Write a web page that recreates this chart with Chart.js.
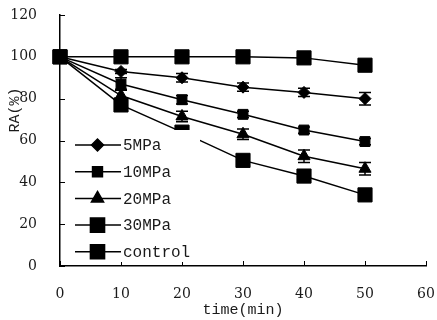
<!DOCTYPE html>
<html>
<head>
<meta charset="utf-8">
<script src="https://cdn.jsdelivr.net/npm/chart.js@4.4.1/dist/chart.umd.min.js"></script>
<style>
    html, body { margin: 0; padding: 0; background: #fff; }
    #wrap { width: 437px; height: 320px; }
</style>
</head>
<body>
<div id="wrap"><canvas id="raChart" width="437" height="320"></canvas></div>
<script>
// Time points (min) and axis ticks
const timePoints = [0, 10, 20, 30, 40, 50];
const xTickValues = [0, 10, 20, 30, 40, 50, 60];
const yTickValues = [0, 20, 40, 60, 80, 100, 120];

// RA (%) per pressure
const ra5MPa = [100, 93, 90, 85.5, 83, 80];
const ra10MPa = [100, 87, 79.5, 72.5, 65, 59.5];
const ra20MPa = [100, 81.5, 71.5, 63, 52.5, 46.5];
const ra30MPa = [100, 77, 64, 50.5, 43, 34];
const raControl = [100, 100, 100, 100, 99.5, 96];

// Error bar half-heights
const err5MPa = [0, 1, 2, 2, 2, 3];
const err10MPa = [0, 3, 2, 1.5, 1.5, 1.5];
const err20MPa = [0, 3, 2.5, 2.5, 3, 3];
const err30MPa = [0, 3, 0, 0, 0, 0];
const errControl = [0, 0, 0, 0, 0, 0];

const seriesLabels = ['5MPa', '10MPa', '20MPa', '30MPa', 'control'];

const ink = '#000';
const textColor = '#1a1a1a';

function makeDataset(label, values, errors, pointStyle, radius) {
    return {
        label: label,
        data: timePoints.map((t, i) => ({ x: t, y: values[i] })),
        errors: errors,
        borderColor: ink,
        backgroundColor: ink,
        borderWidth: 1.5,
        pointStyle: pointStyle,
        pointRadius: radius,
        pointHoverRadius: radius,
        pointBorderWidth: 1,
        tension: 0,
        clip: false
    };
}

const datasets = [
    makeDataset(seriesLabels[0], ra5MPa, err5MPa, 'rectRot', 6),
    makeDataset(seriesLabels[1], ra10MPa, err10MPa, 'rect', 7),
    makeDataset(seriesLabels[2], ra20MPa, err20MPa, 'triangle', 7),
    makeDataset(seriesLabels[3], ra30MPa, err30MPa, 'rect', 10),
    makeDataset(seriesLabels[4], raControl, errControl, 'rect', 10)
];

// Error bars, inward ticks, the white legend box and axis titles
const decorPlugin = {
    id: 'decor',
    afterDatasetsDraw(chart) {
        const ctx = chart.ctx;
        const xs = chart.scales.x;
        const ys = chart.scales.y;
        const area = chart.chartArea;
        ctx.save();
        ctx.strokeStyle = ink;
        ctx.lineWidth = 1.5;

        // error bars
        chart.data.datasets.forEach(ds => {
            ds.data.forEach((p, i) => {
                const e = ds.errors[i];
                if (!e) return;
                const px = xs.getPixelForValue(p.x);
                const top = ys.getPixelForValue(p.y + e);
                const bot = ys.getPixelForValue(p.y - e);
                ctx.beginPath();
                ctx.moveTo(px, top); ctx.lineTo(px, bot);
                ctx.moveTo(px - 6, top); ctx.lineTo(px + 6, top);
                ctx.moveTo(px - 6, bot); ctx.lineTo(px + 6, bot);
                ctx.stroke();
            });
        });

        // inward tick marks
        ctx.lineWidth = 1;
        ctx.beginPath();
        xTickValues.forEach(v => {
            const px = Math.round(xs.getPixelForValue(v)) + 0.5;
            ctx.moveTo(px, area.bottom); ctx.lineTo(px, area.bottom - 5);
        });
        yTickValues.forEach(v => {
            const py = Math.round(ys.getPixelForValue(v)) + 0.5;
            ctx.moveTo(area.left, py); ctx.lineTo(area.left + 5, py);
        });
        ctx.stroke();

        // legend box (white, covers the lines behind it)
        const boxLeft = area.left + 5;
        const boxTop = 130;
        ctx.fillStyle = '#fff';
        ctx.fillRect(boxLeft, boxTop, 135, 132);
        ctx.font = '16px "Liberation Mono"';
        ctx.textBaseline = 'middle';
        ctx.textAlign = 'left';
        chart.data.datasets.forEach((ds, i) => {
            const ly = 145 + i * 26.7;
            ctx.strokeStyle = ink;
            ctx.lineWidth = 1.5;
            ctx.beginPath();
            ctx.moveTo(75, ly); ctx.lineTo(121, ly);
            ctx.stroke();
            ctx.fillStyle = ink;
            Chart.helpers.drawPoint(ctx, {
                pointStyle: ds.pointStyle,
                radius: ds.pointRadius,
                rotation: 0,
                borderWidth: 1
            }, 97.5, ly);
            ctx.fillStyle = textColor;
            ctx.fillText(ds.label, 123, ly + 1);
        });

        // axis titles
        ctx.fillStyle = textColor;
        ctx.font = '15px "Liberation Mono"';
        ctx.textAlign = 'center';
        ctx.fillText('time(min)', 243, 310);
        ctx.translate(15, 110);
        ctx.rotate(-Math.PI / 2);
        ctx.fillText('RA(%)', 0, 0);
        ctx.restore();
    }
};

const config = {
    type: 'line',
    data: { datasets: datasets },
    options: {
        responsive: false,
        animation: false,
        layout: { padding: { left: 0, right: 10, top: 15, bottom: 0 } },
        plugins: {
            legend: { display: false },
            tooltip: { enabled: false }
        },
        scales: {
            x: {
                type: 'linear',
                min: 0,
                max: 60,
                afterFit: scale => {
                    scale.height = 54;
                    scale.paddingLeft = 0;
                    scale.paddingRight = 0;
                },
                afterBuildTicks: scale => { scale.ticks = xTickValues.map(v => ({ value: v })); },
                grid: { display: false },
                border: { display: true, color: ink, width: 1.5 },
                ticks: {
                    padding: 12,
                    color: textColor,
                    font: { family: '"DejaVu Serif"', size: 14 }
                }
            },
            y: {
                type: 'linear',
                min: 0,
                max: 120,
                afterFit: scale => {
                    scale.width = 60;
                    scale.paddingTop = 0;
                    scale.paddingBottom = 0;
                },
                afterBuildTicks: scale => { scale.ticks = yTickValues.map(v => ({ value: v })); },
                grid: { display: false },
                border: { display: true, color: ink, width: 1.5 },
                ticks: {
                    padding: 15,
                    color: textColor,
                    font: { family: '"DejaVu Serif"', size: 14 }
                }
            }
        }
    },
    plugins: [decorPlugin]
};

new Chart(document.getElementById('raChart'), config);
</script>
</body>
</html>
